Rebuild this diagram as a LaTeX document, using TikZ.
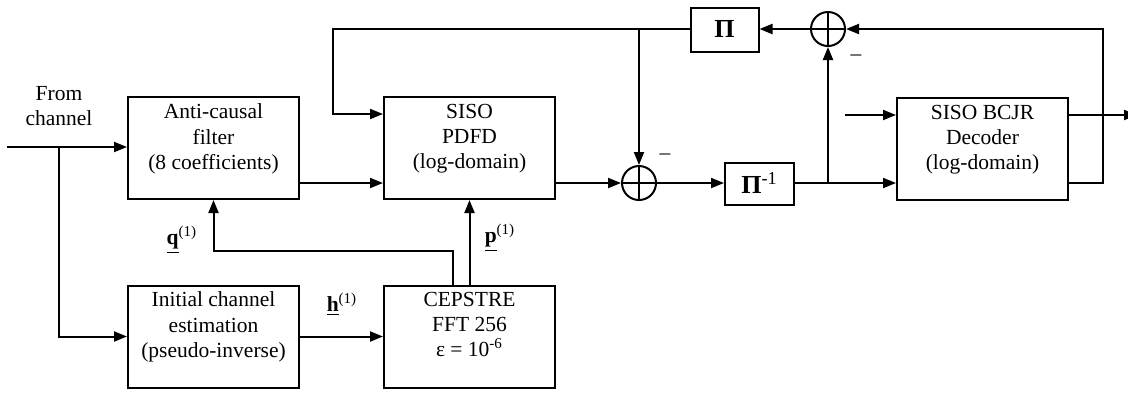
\documentclass[tikz,border=0pt]{standalone}
\usepackage{fontspec}
\setmainfont{Liberation Serif}
\usetikzlibrary{arrows.meta}
\begin{document}
\begin{tikzpicture}[x=0.5pt,y=-0.5pt,
  line width=1pt,
  arr/.style={-{Triangle[length=6.5pt,width=5pt]}},
  blk/.style={draw,line width=1pt,minimum width=85.5pt,minimum height=51pt,inner sep=0pt},
  smallblk/.style={draw,line width=1pt,minimum width=34pt,minimum height=22pt,inner sep=0pt},
  txt/.style={align=center,inner sep=0pt,font=\fontsize{10.75}{12.6}\selectfont},
  pitxt/.style={inner sep=0pt,font=\fontsize{13}{14}\selectfont\bfseries},
  sumc/.style={draw,circle,line width=1pt,minimum size=17pt,inner sep=0pt},
  cross/.style={line width=0.6pt}]
\useasboundingbox (0,0) rectangle (1128,393);

% blocks
\node[blk] (ac) at (213.5,148) {};
\node[txt,anchor=north] (actxt) at (213.5,103) {Anti-causal\\filter\\(8 coefficients)};
\node[blk] (ic) at (213.5,336.5) {};
\node[txt,anchor=north] (ictxt) at (213.5,291) {Initial channel\\estimation\\(pseudo-inverse)};
\node[blk] (pdfd) at (469.5,148) {};
\node[txt,anchor=north] (pdfdtxt) at (469.5,103) {SISO\\PDFD\\(log-domain)};
\node[blk] (cep) at (469.5,336.5) {};
\node[txt,anchor=north] (ceptxt) at (469.5,291) {CEPSTRE\\FFT 256\\ε = 10\textsuperscript{-6}};
\node[blk] (bcjr) at (982.5,148.5) {};
\node[txt,anchor=north] (bcjrtxt) at (982.5,104) {SISO BCJR\\Decoder\\(log-domain)};
\node[smallblk] (pi) at (724.5,29.5) {};
\node[pitxt] (pilab) at (724.5,29) {Π};
\node[smallblk,minimum width=34.5pt,minimum height=21pt] (pim) at (759.5,184) {};
\node[pitxt] (pimlab) at (759.5,183) {Π\textsuperscript{\mdseries-1}};

% summing junctions
\node[sumc] (s1) at (639,183) {};
\draw[cross] (s1.north) -- (s1.south) (s1.west) -- (s1.east);
\node[sumc] (s2) at (828,29) {};
\draw[cross] (s2.north) -- (s2.south) (s2.west) -- (s2.east);
\node[txt] (m1) at (665,157) {–};
\node[txt] (m2) at (856,58) {–};

% input label
\node[txt,anchor=north] (from) at (59,85) {From\\channel};

% coordinates
\coordinate (in) at (7,147);
\coordinate (br) at (59,147);
\coordinate (qc) at (453,251);
\coordinate (fb) at (333,114);
\coordinate (rt) at (1103,29);
\coordinate (bin) at (845,115);
\coordinate (bout) at (1137,115);

% connectors
\draw[arr] (in) -- (in -| ac.west);
\draw[arr] (br) |- (ic.west);
\draw[arr] (ic.east) -- (cep.west);
\draw[arr] (qc |- cep.north) -- (qc) -| (ac.south);
\draw[arr] (cep.north) -- (pdfd.south);
\draw[arr] (ac.east |- s1) -- (pdfd.west |- s1);
\draw[arr] (pi.west |- s2) -| (fb) -- (fb -| pdfd.west);
\draw[arr] (s1 |- s2) -- (s1.north);
\draw[arr] (pdfd.east |- s1) -- (s1.west);
\draw[arr] (s1.east) -- (pim.west |- s1);
\draw[arr] (pim.east |- s1) -- (bcjr.west |- s1);
\draw[arr] (s2 |- s1) -- (s2.south);
\draw[arr] (s2.west) -- (pi.east |- s2);
\draw[arr] (bcjr.east |- s1) -| (rt) -- (s2.east);
\draw[arr] (bin) -- (bin -| bcjr.west);
\draw[arr] (bcjr.east |- bin) -- (bout);

% signal labels
\node[txt] (qlab) at (182,240) {\underline{\textbf{q}}\textsuperscript{(1)}};
\node[txt] (plab) at (500,238) {\underline{\textbf{p}}\textsuperscript{(1)}};
\node[txt] (hlab) at (342,304) {\underline{\textbf{h}}\textsuperscript{(1)}};
\end{tikzpicture}
\end{document}
